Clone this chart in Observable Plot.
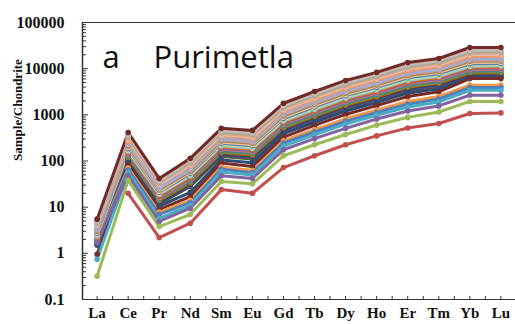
<!DOCTYPE html>
<html><head><meta charset="utf-8">
<script src="https://cdn.jsdelivr.net/npm/d3@7"></script>
<script src="https://cdn.jsdelivr.net/npm/@observablehq/plot@0.6"></script>
<style>body{margin:0;background:#fff} svg{display:block}</style>
</head><body><div id="chart"></div>
<script>
// ---- data ----
const elements = ["La","Ce","Pr","Nd","Sm","Eu","Gd","Tb","Dy","Ho","Er","Tm","Yb","Lu"];
const yTicks = [0.1, 1, 10, 100, 1000, 10000, 100000];
const yTickLabels = ["0.1","1","10","100","1000","10000","100000"];
const yLabel = "Sample/Chondrite";
const panelLetter = "a";
const panelTitle = "Purimetla";

// band of samples (drawn first, bottom to top)
const b22 = [1.6, 96, 11.6, 28, 125, 111, 432, 772, 1350, 2040, 3290, 4010, 6640, 6710];
const b21 = [1.65, 102, 12.3, 29.5, 133, 118, 459, 820, 1430, 2170, 3490, 4260, 7050, 7120];
const b20 = [1.7, 108, 13, 31.5, 141, 125, 487, 870, 1520, 2300, 3710, 4520, 7480, 7560];
const b19 = [1.78, 114, 13.8, 33.5, 150, 133, 517, 923, 1610, 2440, 3940, 4800, 7940, 8030];
const b18 = [1.85, 121, 14.5, 35.5, 159, 141, 549, 980, 1710, 2590, 4180, 5100, 8430, 8520];
const b17 = [1.95, 129, 15.3, 38, 169, 150, 583, 1040, 1820, 2750, 4440, 5410, 8950, 9050];
const b16 = [2.05, 137, 16, 40, 179, 159, 619, 1105, 1930, 2920, 4710, 5740, 9500, 9600];
const b15 = [2.15, 145, 17, 42.5, 190, 169, 657, 1175, 2050, 3100, 5000, 6100, 10100, 10200];
const b14 = [2.3, 154, 18, 45, 202, 179, 697, 1245, 2170, 3290, 5300, 6470, 10700, 10800];
const b13 = [2.4, 164, 19, 48, 214, 190, 740, 1320, 2310, 3490, 5630, 6860, 11300, 11500];
const b12 = [2.55, 174, 20, 51, 227, 202, 786, 1400, 2450, 3700, 5970, 7280, 12000, 12200];
const b11 = [2.7, 185, 21, 54, 241, 214, 834, 1490, 2600, 3930, 6340, 7730, 12800, 12900];
const b10 = [2.85, 196, 22, 57, 256, 227, 885, 1580, 2760, 4170, 6730, 8210, 13600, 13700];
const b09 = [3.0, 208, 23.5, 60, 271, 241, 940, 1680, 2930, 4430, 7150, 8720, 14400, 14600];
const b08 = [3.2, 222, 25, 64, 288, 256, 1000, 1790, 3110, 4710, 7600, 9270, 15300, 15500];
const b07 = [3.4, 236, 26, 68, 305, 272, 1060, 1900, 3310, 5010, 8080, 9850, 16300, 16500];
const b06 = [3.6, 252, 28, 72, 325, 290, 1130, 2020, 3520, 5330, 8600, 10500, 17400, 17600];
const b05 = [4.5, 270, 34, 79, 352, 312, 1220, 2180, 3790, 5740, 9250, 11300, 18600, 19000];
const b04 = [4.1, 292, 31, 82, 368, 328, 1290, 2310, 4020, 6080, 9800, 12000, 20000, 20300];
const b03 = [4.4, 315, 33, 88, 395, 352, 1390, 2480, 4310, 6520, 10500, 12900, 21500, 21900];
const b02 = [4.7, 340, 35, 95, 425, 380, 1490, 2660, 4620, 7000, 11300, 13900, 23200, 23600];
const b01 = [5.0, 370, 37, 102, 455, 410, 1600, 2850, 4950, 7500, 12100, 14900, 25000, 25300];
// separated low samples
const dkblue = [1.5, 92, 10.5, 21, 105, 92, 390, 690, 1200, 1850, 2950, 3650, 6400, 6400];
const maroonLow = [0.95, 85, 9, 17, 90, 76, 330, 590, 1020, 1580, 2500, 3150, 6100, 6100];
const orange = [1.8, 70, 7.8, 14, 74, 62, 275, 480, 820, 1270, 1950, 2500, 4400, 4400];
const blue = [1.7, 64, 7, 12.5, 66, 56, 245, 425, 720, 1120, 1700, 2200, 3900, 3900];
const cyan = [0.74, 56, 5.7, 11, 58, 50, 210, 370, 630, 980, 1480, 1900, 3400, 3400];
const purple = [1.75, 48, 4.9, 9.5, 48, 42, 175, 305, 510, 810, 1210, 1560, 2650, 2650];
const green = [0.32, 38, 3.8, 7, 36, 32, 130, 225, 375, 600, 880, 1150, 1950, 1950];
const red = [null, 20, 2.2, 4.5, 24, 20, 72, 130, 225, 350, 520, 650, 1070, 1100];
// highest sample (drawn last)
const top1 = [5.5, 415, 42, 114, 510, 460, 1780, 3200, 5560, 8300, 13600, 16600, 28700, 28700];

const seriesNames = ["b22","b21","b20","b19","b18","b17","b16","b15","b14","b13","b12","b11","b10","b09","b08","b07","b06","b05","b04","b03","b02","b01",
  "dkblue","maroonLow","orange","blue","cyan","purple","green","red","top1"];
const seriesValues = [b22,b21,b20,b19,b18,b17,b16,b15,b14,b13,b12,b11,b10,b09,b08,b07,b06,b05,b04,b03,b02,b01,
  dkblue,maroonLow,orange,blue,cyan,purple,green,red,top1];
const seriesColors = ["#4F6228","#604A7B","#1F497D","#B65708","#77933C","#31859C","#CD7371","#8064A2","#E46C0A","#93CDDD","#C3D69B","#4F81BD","#FAC090","#948A54","#D99694","#95B3D7","#B3A2C7","#F79646","#E6B9B8","#D6A77A","#A5A5A5","#C4BCB0",
  "#2C4D75","#772C2A","#F79646","#4F81BD","#4BACC6","#8064A2","#9BBB59","#C0504D","#722A28"];

// ---- layout ----
const W = 515, H = 324, mL = 82, mR = 0, mT = 22, mB = 25;
const plotW = W - mL - mR, plotH = H - mT - mB;
const frameColor = "#333";
const serif = "'Liberation Serif', 'DejaVu Serif', serif";

const rows = [];
seriesNames.forEach((name, s) => {
  seriesValues[s].forEach((v, i) => rows.push({series: name, i, value: v}));
});

const xTicksMinor = d3.range(0, elements.length, 0.5);
const yMinor = [];
for (let k = 0; k < yTicks.length - 1; k++) for (let m = 2; m <= 9; m++) yMinor.push(yTicks[k] * m);

const chart = Plot.plot({
  width: W, height: H,
  marginLeft: mL, marginRight: mR, marginTop: mT, marginBottom: mB,
  style: {background: "#fff", overflow: "visible"},
  x: {type: "linear", domain: [-0.47, elements.length - 1 + 0.47], axis: null},
  y: {type: "log", domain: [yTicks[0], yTicks[yTicks.length - 1]], axis: null},
  color: {domain: seriesNames, range: seriesColors},
  marks: [
    Plot.line(rows, {x: "i", y: "value", z: "series", stroke: "series", strokeWidth: 3, defined: d => d.value != null}),
    Plot.dot(rows.filter(d => d.value != null), {x: "i", y: "value", fill: "series", r: 2.8}),
    // frame lines
    Plot.ruleY([yTicks[yTicks.length - 1]], {stroke: frameColor, strokeWidth: 1.2}),
    Plot.ruleY([yTicks[0]], {stroke: frameColor, strokeWidth: 1.2}),
    Plot.ruleX([-0.47], {stroke: frameColor, strokeWidth: 1.5}),
    // y ticks inward
    Plot.tickY(yTicks, {y: d => d, stroke: frameColor, insetRight: plotW - 6}),
    Plot.tickY(yMinor, {y: d => d, stroke: frameColor, insetRight: plotW - 4}),
    // x ticks inward
    Plot.tickX(xTicksMinor, {x: d => d, stroke: frameColor, insetTop: plotH - 3}),
    // y labels
    Plot.text(yTicks, {y: d => d, text: (d, i) => yTickLabels[i], frameAnchor: "left", textAnchor: "end", dx: -18,
      fontFamily: serif, fontWeight: "bold", fontSize: 16, fill: "#111", style: "letter-spacing:1px"}),
    // x labels
    Plot.text(elements, {x: (d, i) => i, text: d => d, frameAnchor: "bottom", dy: 14, lineAnchor: "middle",
      fontFamily: serif, fontWeight: "bold", fontSize: 15, fill: "#111", style: "letter-spacing:0.5px"}),
    // y axis title
    Plot.text([yLabel], {frameAnchor: "left", dx: -65, rotate: -90, fontFamily: serif, fontWeight: "bold", fontSize: 13, fill: "#111"}),
    // panel title
    Plot.text([panelLetter], {frameAnchor: "top-left", dx: 20, dy: 36, lineAnchor: "middle", textAnchor: "start",
      fontFamily: "'Open Sans', sans-serif", fontSize: 31, fill: "#111"}),
    Plot.text([panelTitle], {frameAnchor: "top-left", dx: 71, dy: 36, lineAnchor: "middle", textAnchor: "start",
      fontFamily: "'Open Sans', sans-serif", fontSize: 31, fill: "#111", style: "letter-spacing:1px"})
  ]
});
document.getElementById("chart").appendChild(chart);
</script>
</body></html>
